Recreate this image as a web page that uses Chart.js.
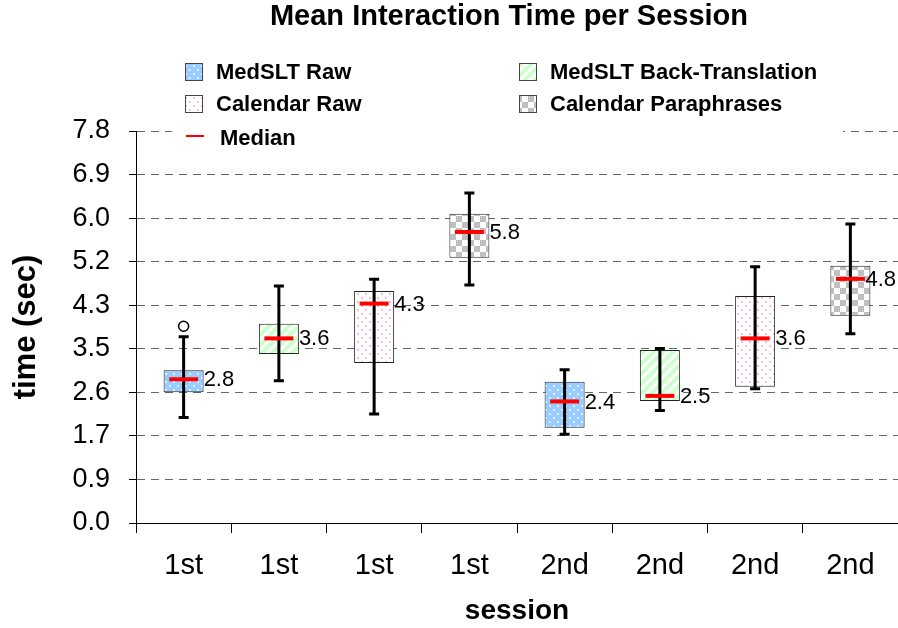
<!DOCTYPE html>
<html>
<head>
<meta charset="utf-8">
<script src="https://cdn.jsdelivr.net/npm/chart.js@4.4.0/dist/chart.umd.min.js"></script>
<style>
html, body { margin: 0; padding: 0; background: #fff; }
#wrap { width: 898px; height: 628px; }
</style>
</head>
<body>
<div id="wrap"><canvas id="boxChart" width="898" height="628"></canvas></div>
<script>
// data
const categories = ['1st', '1st', '1st', '1st', '2nd', '2nd', '2nd', '2nd'];
const seriesNames = ['MedSLT Raw', 'MedSLT Back-Translation', 'Calendar Raw', 'Calendar Paraphrases'];
const seriesOfBox = [0, 1, 2, 3, 0, 1, 2, 3];
const q1 = [2.59, 3.35, 3.17, 5.26, 1.89, 2.42, 2.70, 4.11];
const q3 = [3.03, 3.95, 4.60, 6.13, 2.80, 3.43, 4.50, 5.10];
const medians = [2.85, 3.66, 4.35, 5.77, 2.41, 2.52, 3.66, 4.84];
const whiskerLow = [2.09, 2.82, 2.16, 4.72, 1.76, 2.23, 2.66, 3.75];
const whiskerHigh = [3.69, 4.70, 4.83, 6.54, 3.04, 3.46, 5.08, 5.93];
const medianLabels = ['2.8', '3.6', '4.3', '5.8', '2.4', '2.5', '3.6', '4.8'];
const outliers = [[3.90], [], [], [], [], [], [], []];
const yTickLabels = ['0.0', '0.9', '1.7', '2.6', '3.5', '4.3', '5.2', '6.0', '6.9', '7.8'];
const yStep = 0.8635;

const FONT = 'Liberation Sans, Arial, sans-serif';
Chart.defaults.font.family = FONT;
Chart.defaults.color = '#000';

const canvas = document.getElementById('boxChart');
const ctx = canvas.getContext('2d');

function makePattern(size, draw) {
    const c = document.createElement('canvas');
    c.width = size; c.height = size;
    draw(c.getContext('2d'), size);
    return ctx.createPattern(c, 'repeat');
}

const patterns = [
    // blue with white dots
    makePattern(8, (g) => {
        g.fillStyle = '#99ccff'; g.fillRect(0, 0, 8, 8);
        g.fillStyle = '#ffffff';
        g.beginPath(); g.arc(2, 2, 0.9, 0, Math.PI * 2); g.arc(6, 6, 0.9, 0, Math.PI * 2); g.fill();
    }),
    // green with white diagonal stripes
    makePattern(10, (g, s) => {
        g.fillStyle = '#ccffcc'; g.fillRect(0, 0, s, s);
        g.strokeStyle = '#ffffff'; g.lineWidth = 3;
        g.beginPath();
        g.moveTo(0, s); g.lineTo(s, 0);
        g.moveTo(-2, 2); g.lineTo(2, -2);
        g.moveTo(s - 2, s + 2); g.lineTo(s + 2, s - 2);
        g.stroke();
    }),
    // white with pink dots
    makePattern(8, (g) => {
        g.fillStyle = '#ffffff'; g.fillRect(0, 0, 8, 8);
        g.fillStyle = '#ff99cc';
        g.beginPath(); g.arc(2, 2, 0.9, 0, Math.PI * 2); g.arc(6, 6, 0.9, 0, Math.PI * 2); g.fill();
    }),
    // grey checkerboard
    makePattern(12, (g) => {
        g.fillStyle = '#ffffff'; g.fillRect(0, 0, 12, 12);
        g.fillStyle = '#c0c0c0';
        g.fillRect(0, 0, 6, 6); g.fillRect(6, 6, 6, 6);
    })
];

const datasets = seriesNames.map((name, s) => ({
    label: name,
    data: categories.map((c, i) => seriesOfBox[i] === s ? [q1[i], q3[i]] : null),
    backgroundColor: patterns[s],
    borderColor: '#222',
    borderWidth: 1,
    borderSkipped: false,
    grouped: false,
    barPercentage: 0.42,
    categoryPercentage: 1.0
}));

// whiskers, caps, medians, outliers and median labels
const boxDetails = {
    id: 'boxDetails',
    afterDatasetsDraw(chart) {
        const { ctx, scales: { x, y } } = chart;
        ctx.save();
        categories.forEach((c, i) => {
            const cx = x.getPixelForValue(i);
            const top = y.getPixelForValue(whiskerHigh[i]);
            const bot = y.getPixelForValue(whiskerLow[i]);
            ctx.strokeStyle = '#000';
            ctx.lineWidth = 3;
            ctx.beginPath();
            ctx.moveTo(cx, top); ctx.lineTo(cx, bot);
            ctx.moveTo(cx - 5, top); ctx.lineTo(cx + 5, top);
            ctx.moveTo(cx - 5, bot); ctx.lineTo(cx + 5, bot);
            ctx.stroke();

            const my = y.getPixelForValue(medians[i]);
            ctx.strokeStyle = '#ff0000';
            ctx.lineWidth = 4;
            ctx.beginPath();
            ctx.moveTo(cx - 14.5, my); ctx.lineTo(cx + 14.5, my);
            ctx.stroke();

            outliers[i].forEach(v => {
                const oy = y.getPixelForValue(v);
                ctx.beginPath();
                ctx.arc(cx, oy, 5, 0, Math.PI * 2);
                ctx.fillStyle = '#fff'; ctx.fill();
                ctx.lineWidth = 1.5; ctx.strokeStyle = '#000'; ctx.stroke();
            });

            ctx.font = '22px ' + FONT;
            ctx.fillStyle = '#000';
            ctx.textAlign = 'left';
            ctx.textBaseline = 'middle';
            const w = ctx.measureText(medianLabels[i]).width;
            const tx = Math.min(cx + 20, chart.width - w - 2);
            ctx.fillText(medianLabels[i], tx, my + 1);
        });
        ctx.restore();
    }
};

// legend in two columns, white box over the top grid line
const boxLegend = {
    id: 'boxLegend',
    afterDraw(chart) {
        const { ctx } = chart;
        const colX = [185, 519];
        const rowY = [72, 104, 138];
        ctx.save();
        ctx.fillStyle = '#fff';
        ctx.fillRect(172, 50, 671, 100);
        ctx.font = 'bold 22px ' + FONT;
        ctx.textAlign = 'left';
        ctx.textBaseline = 'middle';
        seriesNames.forEach((name, s) => {
            const x0 = colX[s % 2];
            const y0 = rowY[Math.floor(s / 2)];
            ctx.fillStyle = patterns[s];
            ctx.fillRect(x0, y0 - 9, 18, 18);
            ctx.strokeStyle = '#444';
            ctx.lineWidth = 1;
            ctx.strokeRect(x0 + 0.5, y0 - 8.5, 17, 17);
            ctx.fillStyle = '#000';
            ctx.fillText(name, x0 + 31, y0 + 1);
        });
        ctx.strokeStyle = '#ff0000';
        ctx.lineWidth = 2;
        ctx.beginPath();
        ctx.moveTo(colX[0] + 1, rowY[2] - 2); ctx.lineTo(colX[0] + 19, rowY[2] - 2);
        ctx.stroke();
        ctx.fillStyle = '#000';
        ctx.fillText('Median', colX[0] + 35, rowY[2] + 1);
        ctx.restore();
    }
};

// move the title's box so it centres over the plot like the original
const titleShift = {
    id: 'titleShift',
    afterLayout(chart) {
        if (chart.titleBlock) chart.titleBlock.left = 120;
    }
};

new Chart(ctx, {
    type: 'bar',
    data: { labels: categories, datasets: datasets },
    plugins: [boxDetails, boxLegend, titleShift],
    options: {
        responsive: false,
        devicePixelRatio: 1,
        animation: false,
        layout: { padding: 0 },
        plugins: {
            legend: { display: false },
            tooltip: { enabled: false },
            title: {
                display: true,
                text: 'Mean Interaction Time per Session',
                color: '#000',
                font: { size: 29, weight: 'bold', lineHeight: 1.2 },
                padding: { top: 0, bottom: 96.2 }
            }
        },
        scales: {
            x: {
                type: 'category',
                offset: true,
                afterFit: (s) => { s.height = 105; },
                ticks: { font: { size: 29 }, padding: 16, autoSkip: false, maxRotation: 0 },
                grid: { drawOnChartArea: false, offset: true, tickLength: 10, color: '#000', tickColor: '#000' },
                border: { display: true, color: '#000', width: 1 },
                title: {
                    display: true,
                    text: 'session',
                    font: { size: 28, weight: 'bold', lineHeight: 1.2 },
                    padding: { top: 0, bottom: 0 }
                }
            },
            y: {
                min: 0,
                max: yStep * 9,
                afterBuildTicks: (s) => { s.ticks = yTickLabels.map((l, i) => ({ value: i * yStep })); },
                afterFit: (s) => { s.width = 136; },
                ticks: {
                    autoSkip: false,
                    font: { size: 27 },
                    padding: 19,
                    callback: (v, i) => yTickLabels[i]
                },
                grid: { color: '#666', lineWidth: 1, tickLength: 7, tickColor: '#000' },
                border: { display: true, color: '#000', width: 1, dash: [8, 6] },
                title: {
                    display: true,
                    text: 'time (sec)',
                    font: { size: 31, weight: 'bold', lineHeight: 1.2 },
                    padding: { top: 8, bottom: 0 }
                }
            }
        }
    }
});
</script>
</body>
</html>
